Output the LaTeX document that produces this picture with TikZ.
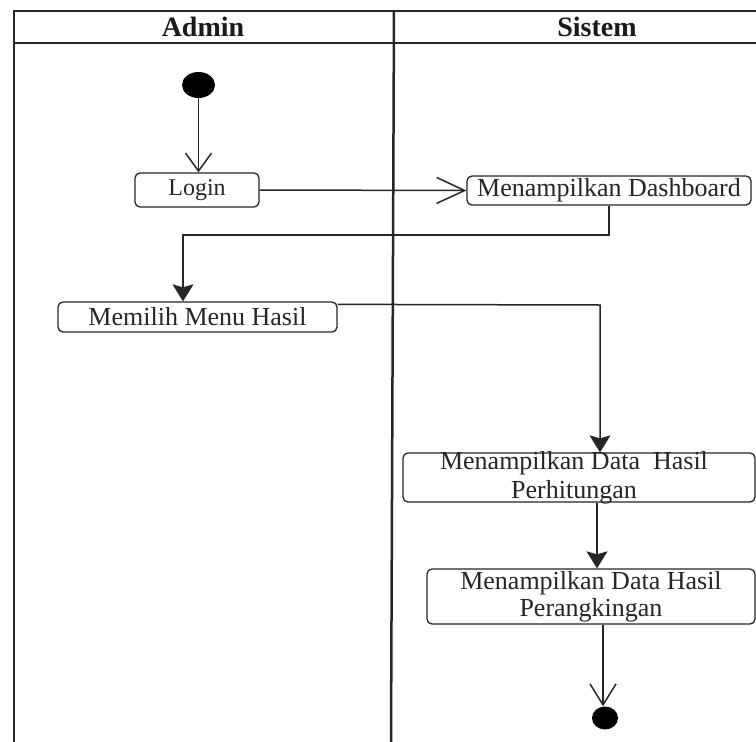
\documentclass[tikz,border=0pt]{standalone}
\usepackage{fontspec}
\setmainfont{Liberation Serif}
\usetikzlibrary{arrows.meta,shapes.geometric}
\begin{document}
\begin{tikzpicture}[x=1pt,y=-1pt,
  ink/.style={draw=black!85},
  act/.style={ink, fill=white, rounded corners=5pt, line width=1.3pt, inner sep=0pt,
    align=center, font=\fontsize{26}{27}\selectfont, text=black!85},
  lanehead/.style={font=\bfseries\fontsize{28}{30}\selectfont, text=black!90},
  flow/.style={ink, line width=1.5pt},
  openarr/.style={flow, -{Straight Barb[length=#1,width=26pt,line width=1.5pt]}},
  openarr/.default=18pt,
  fillarr/.style={flow, -{Stealth[length=17pt,width=21pt,inset=3pt]}},
  dot/.style={ellipse, fill=black, inner sep=0pt}
]
\useasboundingbox (0,0) rectangle (756,742);

% swimlane frame
\draw[ink, line width=2pt] (14,742) -- (14,11) -- (756,11);
\draw[ink, line width=2pt] (14,43) -- (756,43);
\draw[ink, line width=2.5pt] (394,11) -- (391,742);
\node[lanehead] (hadmin) at (203,27) {Admin};
\node[lanehead] (hsistem) at (597,27) {Sistem};

% activities
\node[dot, minimum width=33pt, minimum height=26pt] (init) at (198.5,85) {};
\node[act, minimum width=124pt, minimum height=34pt, font=\fontsize{24}{26}\selectfont] (login) at (197,190) {Login};
\node[act, minimum width=284pt, minimum height=29pt] (dash) at (609,190.5) {Menampilkan Dashboard};
\node[act, minimum width=279pt, minimum height=30pt] (menu) at (197.5,317) {Memilih Menu Hasil};
\node[act, minimum width=352pt, minimum height=49pt] (hitung) at (579,477.5) {};
\node[font=\fontsize{26}{29}\selectfont, text=black!85, align=center] (hitungtxt) at (574,478) {Menampilkan Data\ \ Hasil\\Perhitungan};
\node[act, minimum width=328pt, minimum height=55pt] (rank) at (591,596.5) {Menampilkan Data Hasil\\Perangkingan};
\node[dot, minimum width=26pt, minimum height=23pt] (fin) at (605,718) {};

% junction points of the bent connectors
\coordinate (j1) at (183,235);
\coordinate (j2) at (600,305);

% control flow
\draw[openarr=18pt] (init.south) -- (init.south |- login.north);
\draw[openarr=28pt] (login.east) -- (dash.west);
\draw[fillarr] (dash.south) |- (j1) -- (j1 |- menu.north);
\draw[fillarr] ([yshift=-3pt]menu.north east) -- (j2) -- (j2 |- hitung.north);
\draw[fillarr] ([xshift=18pt]hitung.south) -- ([xshift=18pt]hitung.south |- rank.north);
\draw[openarr=21pt] ([xshift=12pt]rank.south) -- ([xshift=12pt]rank.south |- fin.north);
\end{tikzpicture}
\end{document}
